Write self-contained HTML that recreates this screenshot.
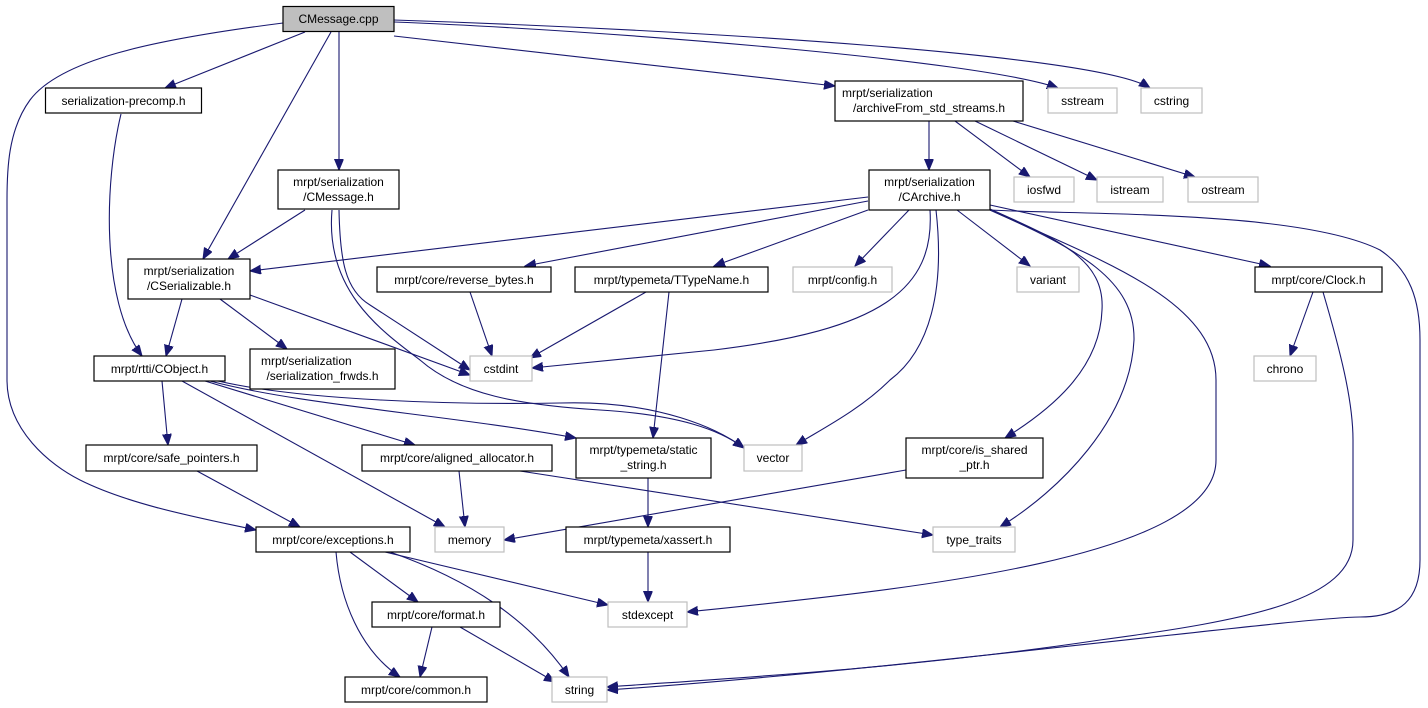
<!DOCTYPE html>
<html><head><meta charset="utf-8"><style>
html,body{margin:0;padding:0;background:#fff;width:1428px;height:708px;overflow:hidden}
svg{display:block}
text{font-family:"Liberation Sans",sans-serif;font-size:12px;fill:#000;text-anchor:middle}
.b{fill:#fff;stroke:#000;stroke-width:1.2}
.g{fill:#fff;stroke:#bfbfbf;stroke-width:1.2}
.e{fill:none;stroke:#191970;stroke-width:1.1}
</style></head><body>
<svg width="1428" height="708" viewBox="0 0 1428 708" xmlns="http://www.w3.org/2000/svg">
<defs><marker id="a" markerUnits="userSpaceOnUse" markerWidth="12" markerHeight="10" refX="11" refY="4.5" orient="auto"><path d="M0,0 L11,4.5 L0,9 Z" fill="#191970" stroke="#191970"/></marker></defs>
<g class="e" marker-end="url(#a)">
<path d="M305,32 L165,88"/>
<path d="M331,32 L203,259"/>
<path d="M339,32 L339,170"/>
<path d="M394,36 L835,86"/>
<path d="M394,22 C600,30 980,60 1058,88"/>
<path d="M394,20 C700,30 1100,55 1150,88"/>
<path d="M283,23 C150,40 60,60 30,100 C8,130 7,170 7,200 L7,380 C7,430 50,465 80,480 C130,505 200,518 256,530"/>
<path d="M121,114 C105,180 100,300 142,356"/>
<path d="M305,210 L228,259"/>
<path d="M339,210 C340,260 345,290 370,305 L470,370"/>
<path d="M332,210 C325,290 380,330 420,360 C460,395 520,405 600,410 C680,415 720,430 744,448"/>
<path d="M182,299 L166,356"/>
<path d="M220,299 L287,349"/>
<path d="M250,295 L470,375"/>
<path d="M162,381 L168,445"/>
<path d="M182,381 L445,527"/>
<path d="M205,381 L415,445"/>
<path d="M210,381 C300,405 450,415 576,438"/>
<path d="M218,381 C300,400 450,405 560,403 C660,400 720,430 744,448"/>
<path d="M197,471 L300,527"/>
<path d="M459,471 L465,527"/>
<path d="M520,471 L933,535"/>
<path d="M648,478 L648,527"/>
<path d="M648,552 L648,602"/>
<path d="M350,552 L418,602"/>
<path d="M336,552 C340,600 360,650 400,677"/>
<path d="M385,552 L608,605"/>
<path d="M390,552 C470,580 530,620 569,677"/>
<path d="M432,627 L420,677"/>
<path d="M460,627 L555,682"/>
<path d="M929,121 L929,170"/>
<path d="M955,121 L1030,177"/>
<path d="M975,121 L1097,180"/>
<path d="M1013,121 L1195,177"/>
<path d="M868,197 L250,271"/>
<path d="M868,201 L525,266"/>
<path d="M868,210 L714,266"/>
<path d="M909,210 L855,266"/>
<path d="M930,210 C935,290 880,330 714,350 L532,368"/>
<path d="M936,210 C945,290 930,350 890,380 C860,410 820,430 796,445"/>
<path d="M957,210 L1030,266"/>
<path d="M990,209 C1060,240 1105,260 1102,310 C1100,370 1050,410 1005,438"/>
<path d="M990,210 C1080,250 1135,280 1134,340 C1130,420 1060,490 1000,527"/>
<path d="M990,210 C1100,260 1216,300 1216,380 L1216,460 C1216,560 900,590 687,612"/>
<path d="M990,210 C1080,215 1300,210 1380,250 C1410,270 1420,300 1420,340 L1420,560 C1420,600 1400,617 1360,617 C1300,617 900,670 607,690"/>
<path d="M990,205 L1270,266"/>
<path d="M1313,292 L1290,356"/>
<path d="M1323,292 C1340,350 1353,400 1353,440 L1353,540 C1353,600 1250,620 1100,640 C900,670 700,680 607,687"/>
<path d="M470,292 L492,356"/>
<path d="M646,292 L530,358"/>
<path d="M669,292 L653,438"/>
<path d="M906,470 L504,540"/>
</g>
<rect x="283" y="6.5" width="111" height="25" fill="#bfbfbf" stroke="#000" stroke-width="1.2"/><text x="338.5" y="23">CMessage.cpp</text>
<rect class="b" x="45.5" y="88" width="156" height="25"/><text x="123.5" y="105">serialization-precomp.h</text>
<rect class="b" x="278" y="170" width="121" height="39"/><text x="338.5" y="186">mrpt/serialization</text><text x="338.5" y="201">/CMessage.h</text>
<rect class="b" x="835" y="81" width="188" height="40"/><text x="842" y="97" style="text-anchor:start">mrpt/serialization</text><text x="929" y="112">/archiveFrom_std_streams.h</text>
<rect class="g" x="1048" y="88" width="69" height="25"/><text x="1082.5" y="105">sstream</text>
<rect class="g" x="1141" y="88" width="61" height="25"/><text x="1171.5" y="105">cstring</text>
<rect class="b" x="869" y="170" width="121" height="40"/><text x="929.5" y="186">mrpt/serialization</text><text x="929.5" y="201">/CArchive.h</text>
<rect class="g" x="1014" y="177" width="60" height="25"/><text x="1044" y="194">iosfwd</text>
<rect class="g" x="1097" y="177" width="66" height="25"/><text x="1130" y="194">istream</text>
<rect class="g" x="1188" y="177" width="70" height="25"/><text x="1223" y="194">ostream</text>
<rect class="b" x="128" y="259" width="122" height="40"/><text x="189" y="275">mrpt/serialization</text><text x="189" y="290">/CSerializable.h</text>
<rect class="b" x="377" y="267" width="174" height="25"/><text x="464" y="284">mrpt/core/reverse_bytes.h</text>
<rect class="b" x="575" y="267" width="193" height="25"/><text x="671.5" y="284">mrpt/typemeta/TTypeName.h</text>
<rect class="g" x="793" y="267" width="99" height="25"/><text x="842.5" y="284">mrpt/config.h</text>
<rect class="g" x="1017" y="267" width="62" height="25"/><text x="1048" y="284">variant</text>
<rect class="b" x="1255" y="267" width="127" height="25"/><text x="1318.5" y="284">mrpt/core/Clock.h</text>
<rect class="b" x="94" y="356" width="131" height="25"/><text x="159.5" y="373">mrpt/rtti/CObject.h</text>
<rect class="b" x="250" y="349" width="145" height="40"/><text x="261" y="365" style="text-anchor:start">mrpt/serialization</text><text x="322.5" y="380">/serialization_frwds.h</text>
<rect class="g" x="470" y="356" width="62" height="25"/><text x="501" y="373">cstdint</text>
<rect class="g" x="1254" y="356" width="62" height="25"/><text x="1285" y="373">chrono</text>
<rect class="b" x="86" y="445" width="171" height="26"/><text x="171.5" y="462">mrpt/core/safe_pointers.h</text>
<rect class="b" x="362" y="445" width="190" height="26"/><text x="457" y="462">mrpt/core/aligned_allocator.h</text>
<rect class="b" x="576" y="438" width="135" height="40"/><text x="643.5" y="454">mrpt/typemeta/static</text><text x="643.5" y="469">_string.h</text>
<rect class="g" x="744" y="445" width="58" height="26"/><text x="773" y="462">vector</text>
<rect class="b" x="906" y="438" width="137" height="40"/><text x="974.5" y="454">mrpt/core/is_shared</text><text x="974.5" y="469">_ptr.h</text>
<rect class="b" x="256" y="527" width="154" height="25"/><text x="333" y="544">mrpt/core/exceptions.h</text>
<rect class="g" x="435" y="527" width="69" height="25"/><text x="469.5" y="544">memory</text>
<rect class="b" x="566" y="527" width="164" height="25"/><text x="648" y="544">mrpt/typemeta/xassert.h</text>
<rect class="g" x="933" y="527" width="82" height="25"/><text x="974" y="544">type_traits</text>
<rect class="b" x="372" y="602" width="128" height="25"/><text x="436" y="619">mrpt/core/format.h</text>
<rect class="g" x="608" y="602" width="79" height="25"/><text x="647.5" y="619">stdexcept</text>
<rect class="b" x="345" y="677" width="142" height="25"/><text x="416" y="694">mrpt/core/common.h</text>
<rect class="g" x="552" y="677" width="55" height="25"/><text x="579.5" y="694">string</text>
</svg>
</body></html>
